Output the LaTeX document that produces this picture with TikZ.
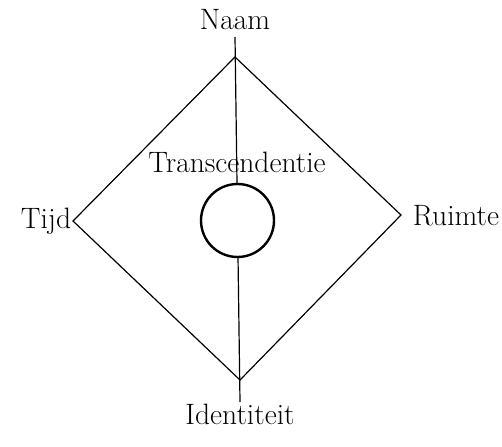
\documentclass[tikz,border=0pt]{standalone}
\usetikzlibrary{positioning}
\tikzset{
  edge/.style={draw=black, line width=1.2pt, line join=miter},
  axis/.style={draw=black, line width=1.2pt},
  hub/.style={circle, draw=black, fill=white, line width=2.4pt,
              minimum size=73pt, inner sep=0pt},
  lbl/.style={font=\fontsize{29.5}{34}\selectfont, inner sep=0pt, anchor=base},
}
\begin{document}
\begin{tikzpicture}[x=1pt, y=-1pt]
\useasboundingbox (0,0) rectangle (502,446);

% corners of the diamond
\coordinate (top) at (235,57);
\coordinate (left) at (73,221);
\coordinate (right) at (401,215);
\coordinate (bot) at (240,380);
\coordinate (axtop) at (235,37);
\coordinate (axbot) at (240,402);

\draw[edge] (top) -- (right) -- (bot) -- (left) -- cycle;
\draw[axis] (axtop) -- (axbot);

% centre
\node[hub] (circ) at (237.5,220.5) {};
\node[lbl] (trans) at (237,173) {Transcendentie};

% labels at the corners
\node[lbl] (naam) at (235,30) {Naam};
\node[lbl] (ident) at (240,424) {Identiteit};
\node[lbl] (tijd) at (46,228) {Tijd};
\node[lbl] (ruimte) at (456,225) {Ruimte};

\end{tikzpicture}
\end{document}
